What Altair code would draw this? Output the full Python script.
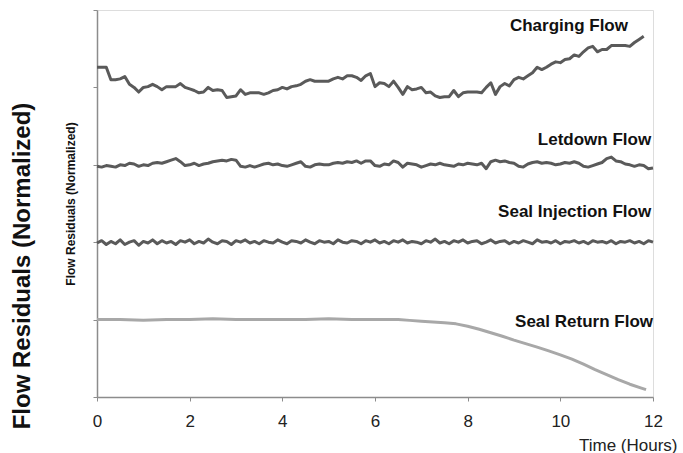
import altair as alt
import pandas as pd

# ---- data ----
charging = [4.26, 4.26, 4.26, 4.10, 4.10, 4.11, 4.14, 4.04, 4.00, 3.94,
            4.00, 4.01, 4.04, 4.01, 3.97, 4.01, 4.01, 4.01, 4.05, 4.00,
            3.98, 3.96, 3.93, 3.94, 4.00, 3.96, 3.97, 3.96, 3.87, 3.88,
            3.89, 3.97, 3.91, 3.93, 3.93, 3.93, 3.91, 3.93, 3.96, 3.97,
            4.00, 3.98, 4.01, 4.02, 4.04, 4.08, 4.10, 4.08, 4.08, 4.08,
            4.08, 4.11, 4.13, 4.11, 4.15, 4.15, 4.13, 4.09, 4.15, 4.18,
            4.01, 4.06, 4.05, 4.01, 4.08, 4.00, 3.91, 4.01, 3.97, 3.98,
            4.00, 3.93, 3.94, 3.89, 3.87, 3.88, 3.88, 3.96, 3.88, 3.93,
            3.94, 3.94, 3.94, 3.93, 4.00, 4.06, 3.91, 4.01, 4.05, 4.02,
            4.10, 4.13, 4.11, 4.15, 4.19, 4.26, 4.23, 4.26, 4.30, 4.33,
            4.32, 4.36, 4.37, 4.42, 4.40, 4.46, 4.51, 4.53, 4.46, 4.49,
            4.49, 4.54, 4.54, 4.54, 4.54, 4.53, 4.58, 4.62, 4.66]

letdown = [2.98, 2.97, 2.99, 2.98, 2.97, 3.00, 2.99, 3.02, 3.01, 2.98,
           3.00, 2.99, 3.02, 3.03, 3.02, 3.04, 3.06, 3.08, 3.04, 2.99,
           3.00, 3.02, 2.99, 3.01, 3.02, 3.04, 3.05, 3.06, 3.05, 3.07,
           3.06, 2.98, 2.97, 2.99, 2.97, 2.99, 3.01, 3.02, 3.00, 3.01,
           2.99, 2.98, 3.00, 3.02, 3.04, 2.98, 2.97, 3.00, 3.01, 3.00,
           3.00, 3.02, 3.03, 3.02, 3.04, 3.03, 3.05, 3.02, 3.05, 3.05,
           2.99, 2.98, 3.01, 3.00, 3.05, 3.03, 2.97, 3.02, 3.01, 3.00,
           2.97, 2.99, 3.01, 3.00, 3.02, 3.00, 2.99, 2.98, 3.01, 3.00,
           3.02, 3.01, 3.00, 3.02, 2.95, 3.04, 3.06, 3.04, 3.05, 3.03,
           3.02, 2.98, 2.97, 3.01, 3.03, 3.04, 3.02, 3.03, 3.02, 3.00,
           3.01, 3.03, 3.02, 3.04, 3.02, 2.98, 2.97, 2.99, 3.01, 3.03,
           3.08, 3.10, 3.05, 3.04, 3.01, 3.00, 2.98, 3.00, 2.99, 2.95,
           2.96]

seal_injection = [1.99, 2.02, 1.97, 2.01, 1.98, 2.03, 1.97, 2.00, 2.02, 1.96,
                  2.01, 1.99, 2.03, 1.98, 2.02, 1.99, 2.01, 1.97, 2.02, 2.00,
                  2.03, 1.98, 2.01, 1.99, 2.04, 2.00, 1.98, 2.02, 2.01, 1.97,
                  2.02, 2.00, 2.03, 1.99, 2.01, 1.98, 2.02, 2.00, 1.99, 2.03,
                  2.00, 1.98, 2.02, 2.01, 1.99, 2.03, 2.00, 1.98, 2.02, 2.00,
                  2.01, 1.98, 2.03, 2.00, 1.99, 2.02, 2.01, 1.98, 2.02, 2.00,
                  2.03, 1.99, 2.01, 1.98, 2.02, 2.00, 2.03, 1.99, 2.01, 2.00,
                  1.98, 2.02, 2.00, 2.04, 1.99, 2.01, 1.98, 2.02, 2.00, 2.03,
                  1.99, 2.01, 2.02, 1.98, 2.00, 2.03, 1.99, 2.01, 2.02, 1.98,
                  2.01, 1.99, 2.02, 2.00, 1.98, 2.03, 2.00, 2.01, 1.99, 2.02,
                  1.98, 2.01, 2.00, 2.02, 1.99, 2.01, 1.98, 2.02, 2.00, 2.01,
                  1.99, 2.02, 1.98, 2.01, 2.00, 2.02, 1.99, 2.01, 1.98, 2.02,
                  2.00]

seal_return_hours = [0, 0.5, 1, 1.5, 2, 2.5, 3, 3.5, 4, 4.5, 5, 5.5, 6, 6.5,
                     6.75, 7, 7.25, 7.5, 7.75, 8, 8.25, 8.5, 8.75, 9, 9.25,
                     9.5, 9.75, 10, 10.25, 10.5, 10.75, 11, 11.25, 11.5,
                     11.75, 11.85]
seal_return = [1.00, 1.00, 0.99, 1.00, 1.00, 1.01, 1.00, 1.00, 1.00, 1.00,
               1.01, 1.00, 1.00, 1.00, 0.99, 0.98, 0.97, 0.96, 0.945, 0.915,
               0.875, 0.83, 0.785, 0.735, 0.69, 0.645, 0.595, 0.545, 0.49, 0.425,
               0.355, 0.29, 0.225, 0.165, 0.115, 0.095]

label_names = ["Charging Flow", "Letdown Flow", "Seal Injection Flow", "Seal Return Flow"]
label_x = [11.46, 11.96, 11.96, 12.0]
label_y = [4.73, 3.26, 2.32, 0.91]

x_ticks = [0, 2, 4, 6, 8, 10, 12]
y_ticks = [0, 1, 2, 3, 4, 5]

# ---- build tables ----
rows = []
for name, vals in [("Charging Flow", charging), ("Letdown Flow", letdown),
                   ("Seal Injection Flow", seal_injection)]:
    for i, v in enumerate(vals):
        rows.append({"series": name, "t": round(i * 0.1, 2), "v": v})
for t, v in zip(seal_return_hours, seal_return):
    rows.append({"series": "Seal Return Flow", "t": t, "v": v})
df = pd.DataFrame(rows)
labels = pd.DataFrame({"name": label_names, "t": label_x, "v": label_y})

FONT = "Liberation Sans"

xscale = alt.Scale(domain=[0, 12], nice=False, zero=False)
yscale = alt.Scale(domain=[0, 5], nice=False, zero=False)

lines = alt.Chart(df).mark_line(strokeWidth=3, strokeJoin="round").encode(
    x=alt.X("t:Q", scale=xscale,
            axis=alt.Axis(values=x_ticks, title="Time (Hours)", grid=False,
                          labelFontSize=17, labelColor="#222222", labelPadding=12,
                          labelFlush=False, labelOverlap=False,
                          labelFont=FONT, tickSize=4, tickColor="#8c8c8c",
                          domainColor="#8c8c8c", domainWidth=1.5,
                          titleFont=FONT, titleFontSize=17, titleFontWeight="normal",
                          titleColor="#222222", titleAlign="right", titleAnchor="end",
                          titleBaseline="alphabetic", titleX=580, titleY=53)),
    y=alt.Y("v:Q", scale=yscale,
            axis=alt.Axis(values=y_ticks, labels=False, grid=False,
                          title="Flow Residuals (Normalized)", tickSize=4,
                          tickColor="#8c8c8c", domainColor="#8c8c8c", domainWidth=1.5,
                          titleFont=FONT, titleFontSize=12, titleFontWeight="bold",
                          titleColor="#111111", titlePadding=15)),
    color=alt.Color("series:N",
                    scale=alt.Scale(domain=["Charging Flow", "Letdown Flow",
                                            "Seal Injection Flow", "Seal Return Flow"],
                                    range=["#5a5a5a", "#5a5a5a", "#5a5a5a", "#a8a8a8"]),
                    legend=None),
    detail="series:N",
)

text = alt.Chart(labels).mark_text(
    font=FONT, fontSize=17, fontWeight="bold", align="right",
    baseline="alphabetic", color="#111111"
).encode(x=alt.X("t:Q", scale=xscale), y=alt.Y("v:Q", scale=yscale), text="name:N")

big_title = alt.Chart(pd.DataFrame({"s": ["Flow Residuals (Normalized)"]})).mark_text(
    font=FONT, fontSize=24, fontWeight="bold", angle=270, align="center",
    baseline="middle", color="#111111"
).encode(x=alt.value(-74), y=alt.value(256), text="s:N")

chart = alt.layer(lines, text, big_title).properties(
    width=556, height=387,
    autosize=alt.AutoSizeParams(type="none"),
    padding={"left": 97, "top": 10, "right": 30, "bottom": 56},
).configure_view(stroke=None).configure(background="white")

chart.save("out.html", embed_options={"renderer": "svg", "actions": False})
